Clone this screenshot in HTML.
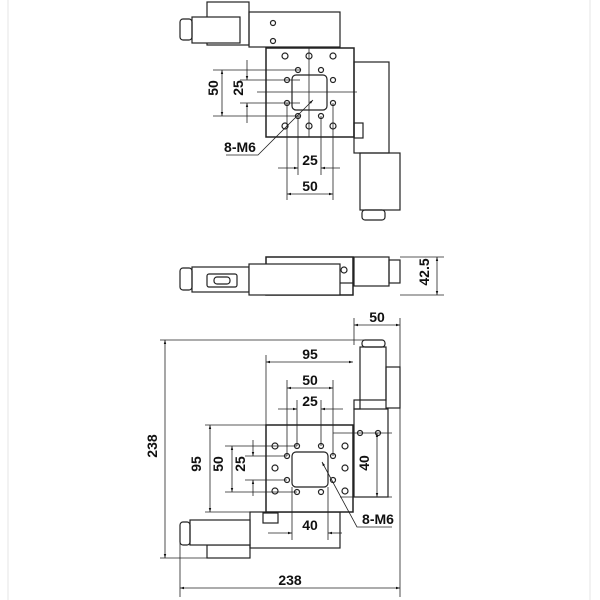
<!DOCTYPE html>
<html><head><style>body{margin:0;background:#fff}svg{display:block}text{font-family:"Liberation Sans",sans-serif;font-weight:bold;font-size:14px;fill:#111}</style></head><body>
<svg width="600" height="600" viewBox="0 0 600 600" xmlns="http://www.w3.org/2000/svg">
<defs><marker id="a" viewBox="0 0 10 10" refX="10" refY="5" markerWidth="7" markerHeight="5" orient="auto-start-reverse"><path d="M0,2 L10,5 L0,8z" fill="#111"/></marker></defs>
<line x1="8" y1="0" x2="8" y2="600" stroke="#e4e4e4"/><line x1="590" y1="0" x2="590" y2="600" stroke="#e4e4e4"/>
<g fill="none" stroke="#222" stroke-width="1.2">
<!-- TOP VIEW -->
<rect x="207" y="2" width="42" height="43"/>
<rect x="192" y="17" width="48" height="26" fill="#fff"/>
<rect x="180" y="19" width="12" height="21" rx="3"/>
<rect x="249" y="12" width="91" height="35"/>
<circle cx="273" cy="23" r="2.5"/><circle cx="273" cy="41" r="2.5"/>
<rect x="266" y="48" width="88" height="89" stroke-width="1.5"/>
<rect x="354" y="62" width="35" height="91"/>
<rect x="354" y="123" width="9" height="15"/>
<rect x="360" y="153" width="40" height="57"/>
<rect x="362" y="210" width="23" height="10" rx="3"/>
<rect x="292" y="75" width="35" height="35" rx="4"/>
</g>
<g fill="none" stroke="#222" stroke-width="1.2">
<circle cx="285" cy="56" r="3"/><circle cx="309" cy="56" r="3"/><circle cx="333" cy="56" r="3"/>
<circle cx="285" cy="126" r="3"/><circle cx="309" cy="126" r="3"/><circle cx="333" cy="126" r="3"/>
<circle cx="298" cy="70" r="2.5"/><circle cx="321" cy="70" r="2.5"/><circle cx="287" cy="80" r="2.5"/><circle cx="333" cy="80" r="2.5"/>
<circle cx="287" cy="103" r="2.5"/><circle cx="333" cy="103" r="2.5"/><circle cx="298" cy="116" r="2.5"/><circle cx="321" cy="116" r="2.5"/>
</g>
<g stroke="#222" stroke-width="0.8" fill="none">
<line x1="213" y1="70" x2="300" y2="70"/><line x1="213" y1="116" x2="300" y2="116"/>
<line x1="240" y1="80" x2="300" y2="80"/><line x1="240" y1="103" x2="300" y2="103"/>
<line x1="257" y1="92" x2="357" y2="92"/>
<line x1="309" y1="48" x2="309" y2="137"/>
<line x1="222" y1="70" x2="222" y2="116" marker-start="url(#a)" marker-end="url(#a)"/>
<line x1="247" y1="60" x2="247" y2="80" marker-end="url(#a)"/><line x1="247" y1="123" x2="247" y2="103" marker-end="url(#a)"/>
<line x1="298" y1="116" x2="298" y2="175"/><line x1="321" y1="116" x2="321" y2="175"/>
<line x1="287" y1="103" x2="287" y2="200"/><line x1="333" y1="103" x2="333" y2="200"/>
<line x1="278" y1="168" x2="298" y2="168" marker-end="url(#a)"/><line x1="340" y1="168" x2="321" y2="168" marker-end="url(#a)"/>
<line x1="287" y1="194" x2="333" y2="194" marker-start="url(#a)" marker-end="url(#a)"/>
<polyline points="226,155 258,155 313,100" marker-end="url(#a)"/>
</g>
<text x="222" y="92" transform="rotate(-90 218 92)" text-anchor="middle">50</text>
<text x="247" y="92" transform="rotate(-90 243 92)" text-anchor="middle">25</text>
<text x="310" y="165" text-anchor="middle">25</text>
<text x="310" y="191" text-anchor="middle">50</text>
<text x="240" y="152" text-anchor="middle">8-M6</text>
<!-- SIDE VIEW -->
<g fill="none" stroke="#222" stroke-width="1.2">
<rect x="180" y="268" width="12" height="22" rx="3"/>
<rect x="192" y="267" width="57" height="25"/>
<rect x="207" y="274" width="30" height="13" rx="2"/>
<rect x="214" y="277" width="16" height="7" rx="3"/>
<rect x="266" y="257" width="87" height="38" stroke-width="1.5"/>
<rect x="249" y="264" width="91" height="31" fill="#fff"/>
<rect x="354" y="257" width="35" height="29"/>
<rect x="389" y="260" width="11" height="23"/>
<circle cx="344" cy="270" r="3"/>
<line x1="340" y1="283" x2="354" y2="283"/>
</g>
<g stroke="#222" stroke-width="0.8">
<line x1="400" y1="257" x2="444" y2="257"/><line x1="400" y1="295" x2="444" y2="295"/>
<line x1="437" y1="257" x2="437" y2="295" marker-start="url(#a)" marker-end="url(#a)"/>
</g>
<text x="433" y="276" transform="rotate(-90 429 276)" text-anchor="middle">42.5</text>
<!-- BOTTOM VIEW -->
<g fill="none" stroke="#222" stroke-width="1.2">
<rect x="362" y="340" width="23" height="7" rx="3"/>
<rect x="360" y="347" width="26" height="53"/>
<rect x="386" y="367" width="14" height="41"/>
<rect x="354" y="400" width="6" height="9"/>
<rect x="354" y="409" width="34" height="88"/>
<circle cx="360" cy="433" r="2.5"/><circle cx="378" cy="433" r="2.5"/>
<rect x="250" y="512" width="90" height="36"/>
<rect x="263" y="513" width="15" height="10"/>
<rect x="207" y="545" width="43" height="13"/>
<rect x="190" y="520" width="60" height="25" fill="#fff"/>
<rect x="180" y="522" width="10" height="23" rx="3"/>
<rect x="266" y="425" width="87" height="87" stroke-width="1.5" fill="#fff"/>
<rect x="292" y="452" width="36" height="35" rx="4"/>
<circle cx="275" cy="446" r="3"/><circle cx="275" cy="468" r="3"/><circle cx="275" cy="491" r="3"/>
<circle cx="345" cy="446" r="3"/><circle cx="345" cy="468" r="3"/><circle cx="345" cy="491" r="3"/>
<circle cx="297" cy="446" r="2.5"/><circle cx="321" cy="446" r="2.5"/><circle cx="287" cy="456" r="2.5"/><circle cx="333" cy="456" r="2.5"/>
<circle cx="287" cy="480" r="2.5"/><circle cx="333" cy="480" r="2.5"/><circle cx="297" cy="492" r="2.5"/><circle cx="321" cy="492" r="2.5"/>
</g>
<g stroke="#222" stroke-width="0.8" fill="none">
<line x1="160" y1="340" x2="370" y2="340"/><line x1="160" y1="558" x2="212" y2="558"/>
<line x1="165" y1="340" x2="165" y2="558" marker-start="url(#a)" marker-end="url(#a)"/>
<line x1="180" y1="530" x2="180" y2="597"/><line x1="400" y1="318" x2="400" y2="597"/>
<line x1="180" y1="588" x2="400" y2="588" marker-start="url(#a)" marker-end="url(#a)"/>
<line x1="354" y1="318" x2="354" y2="345"/>
<line x1="354" y1="325" x2="400" y2="325" marker-start="url(#a)" marker-end="url(#a)"/>
<line x1="266" y1="355" x2="266" y2="425"/>
<line x1="266" y1="362" x2="353" y2="362" marker-start="url(#a)" marker-end="url(#a)"/>
<line x1="287" y1="380" x2="287" y2="456"/><line x1="333" y1="380" x2="333" y2="456"/>
<line x1="287" y1="388" x2="333" y2="388" marker-start="url(#a)" marker-end="url(#a)"/>
<line x1="297" y1="400" x2="297" y2="446"/><line x1="321" y1="400" x2="321" y2="446"/>
<line x1="278" y1="409" x2="297" y2="409" marker-end="url(#a)"/><line x1="343" y1="409" x2="321" y2="409" marker-end="url(#a)"/>
<line x1="205" y1="425" x2="266" y2="425"/><line x1="205" y1="512" x2="266" y2="512"/>
<line x1="210" y1="425" x2="210" y2="512" marker-start="url(#a)" marker-end="url(#a)"/>
<line x1="225" y1="446" x2="297" y2="446"/><line x1="225" y1="492" x2="297" y2="492"/>
<line x1="232" y1="446" x2="232" y2="492" marker-start="url(#a)" marker-end="url(#a)"/>
<line x1="245" y1="456" x2="287" y2="456"/><line x1="245" y1="480" x2="287" y2="480"/>
<line x1="253" y1="440" x2="253" y2="456" marker-end="url(#a)"/><line x1="253" y1="496" x2="253" y2="480" marker-end="url(#a)"/>
<line x1="292" y1="487" x2="292" y2="540"/><line x1="328" y1="487" x2="328" y2="540"/>
<line x1="268" y1="533" x2="292" y2="533" marker-end="url(#a)"/><line x1="342" y1="533" x2="328" y2="533" marker-end="url(#a)"/>
<line x1="333" y1="433" x2="392" y2="433"/><line x1="340" y1="497" x2="392" y2="497"/>
<line x1="377" y1="433" x2="377" y2="497" marker-start="url(#a)" marker-end="url(#a)"/>
<polyline points="392,527 357,527 322,462" marker-end="url(#a)"/>
</g>
<text x="161" y="450" transform="rotate(-90 157 450)" text-anchor="middle">238</text>
<text x="290" y="585" text-anchor="middle">238</text>
<text x="377" y="322" text-anchor="middle">50</text>
<text x="310" y="359" text-anchor="middle">95</text>
<text x="310" y="385" text-anchor="middle">50</text>
<text x="310" y="406" text-anchor="middle">25</text>
<text x="205" y="468" transform="rotate(-90 201 468)" text-anchor="middle">95</text>
<text x="227" y="468" transform="rotate(-90 223 468)" text-anchor="middle">50</text>
<text x="249" y="468" transform="rotate(-90 245 468)" text-anchor="middle">25</text>
<text x="310" y="530" text-anchor="middle">40</text>
<text x="373" y="467" transform="rotate(-90 369 467)" text-anchor="middle">40</text>
<text x="378" y="524" text-anchor="middle">8-M6</text>
</svg>
</body></html>
